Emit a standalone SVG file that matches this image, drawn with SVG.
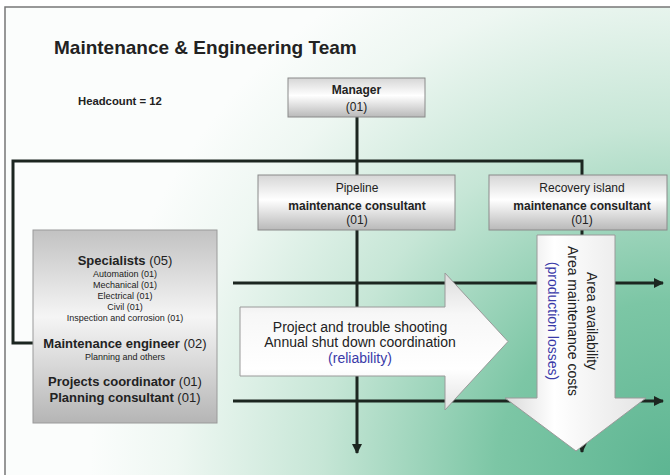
<svg xmlns="http://www.w3.org/2000/svg" width="670" height="475" viewBox="0 0 670 475">
  <defs>
    <radialGradient id="bg" gradientUnits="userSpaceOnUse" cx="670" cy="475" r="580">
      <stop offset="0" stop-color="#5db592"/>
      <stop offset="0.3" stop-color="#7cc6a5"/>
      <stop offset="0.6" stop-color="#c6e6d6"/>
      <stop offset="0.85" stop-color="#eef7f2"/>
      <stop offset="1" stop-color="#fbfdfc"/>
    </radialGradient>
    <linearGradient id="boxFill" x1="0" y1="0" x2="0" y2="1">
      <stop offset="0" stop-color="#d6d6d6"/>
      <stop offset="0.45" stop-color="#ffffff"/>
      <stop offset="1" stop-color="#b9b9b9"/>
    </linearGradient>
    <linearGradient id="teamFill" x1="0" y1="0" x2="0" y2="1">
      <stop offset="0" stop-color="#c2c2c2"/>
      <stop offset="0.45" stop-color="#f5f5f5"/>
      <stop offset="1" stop-color="#b5b5b5"/>
    </linearGradient>
    <linearGradient id="rightFill" x1="0" y1="0" x2="0" y2="1">
      <stop offset="0" stop-color="#dcdcdc"/>
      <stop offset="0.3" stop-color="#f7f7f7"/>
      <stop offset="0.7" stop-color="#ffffff"/>
      <stop offset="1" stop-color="#e2e2e2"/>
    </linearGradient>
    <linearGradient id="downFill" x1="0" y1="0" x2="1" y2="0">
      <stop offset="0" stop-color="#dadada"/>
      <stop offset="0.35" stop-color="#ffffff"/>
      <stop offset="1" stop-color="#e4e4e4"/>
    </linearGradient>
    <marker id="tip" markerUnits="userSpaceOnUse" markerWidth="10" markerHeight="10" refX="9" refY="5" orient="auto">
      <path d="M0,0 L10,5 L0,10 z" fill="#1c2620"/>
    </marker>
    <style>
      text { font-family: "Liberation Sans", Arial, sans-serif; fill: #222; }
      .b { font-weight: bold; }
      .title { font-size: 19px; font-weight: bold; }
      .head { font-size: 11.3px; font-weight: bold; }
      .box { stroke: #8a8a8a; stroke-width: 1; fill: url(#boxFill); }
      .bt { font-size: 12px; text-anchor: middle; }
      .st { font-size: 13px; text-anchor: middle; }
      .sm { font-size: 9px; text-anchor: middle; }
      .at { font-size: 14px; text-anchor: middle; }
      .blue { fill: #3a3aa8; }
      .line { stroke: #1c2620; stroke-width: 3; fill: none; }
      .blk { stroke: #9a9a9a; stroke-width: 1; }
    </style>
  </defs>

  <!-- page -->
  <rect x="0" y="0" width="670" height="475" fill="#ffffff"/>
  <rect x="5" y="7" width="700" height="500" fill="url(#bg)" stroke="#777" stroke-width="1.5"/>

  <text class="title" x="54" y="54">Maintenance &amp; Engineering Team</text>
  <text class="head" x="78" y="105">Headcount = 12</text>

  <!-- connectors -->
  <g id="connectors">
    <path class="line" d="M33 343 H13 V161 H582 V175"/>
    <path class="line" d="M357 117 V453" marker-end="url(#tip)"/>
    <path class="line" d="M582 230 V452" marker-end="url(#tip)"/>
    <path class="line" d="M233 283 H663" marker-end="url(#tip)"/>
    <path class="line" d="M233 401 H663" marker-end="url(#tip)"/>
  </g>

  <g id="manager">
    <rect class="box" x="288" y="78" width="137" height="39"/>
    <text class="bt b" x="356.5" y="94">Manager</text>
    <text class="bt" x="356.5" y="111">(01)</text>
  </g>

  <g id="pipeline">
    <rect class="box" x="258" y="175" width="197" height="55"/>
    <text class="bt" x="357" y="191.5">Pipeline</text>
    <text class="bt b" x="357" y="209.5">maintenance consultant</text>
    <text class="bt" x="357" y="224">(01)</text>
  </g>

  <g id="recovery">
    <rect class="box" x="489" y="175" width="178" height="55"/>
    <text class="bt" x="582" y="191.5">Recovery island</text>
    <text class="bt b" x="582" y="209.5">maintenance consultant</text>
    <text class="bt" x="582" y="224">(01)</text>
  </g>

  <g id="team">
    <rect x="33" y="230" width="184" height="193" fill="url(#teamFill)" stroke="#9a9a9a" stroke-width="1"/>
    <text class="st" x="125" y="264.5"><tspan class="b">Specialists</tspan> (05)</text>
    <text class="sm" x="125" y="276.5">Automation (01)</text>
    <text class="sm" x="125" y="287.5">Mechanical (01)</text>
    <text class="sm" x="125" y="298.5">Electrical (01)</text>
    <text class="sm" x="125" y="309.5">Civil (01)</text>
    <text class="sm" x="125" y="320.5">Inspection and corrosion (01)</text>
    <text class="st" x="125" y="347.5"><tspan class="b">Maintenance engineer</tspan> (02)</text>
    <text class="sm" x="125" y="360">Planning and others</text>
    <text class="st" x="125" y="385.5"><tspan class="b">Projects coordinator</tspan> (01)</text>
    <text class="st" x="125" y="402"><tspan class="b">Planning consultant</tspan> (01)</text>
  </g>

  <g id="reliability">
    <polygon class="blk" fill="url(#rightFill)" points="240,307 445,307 445,273 508,341.5 445,410 445,376 240,376"/>
    <text class="at" x="360" y="332">Project and trouble shooting</text>
    <text class="at" x="360" y="347">Annual shut down coordination</text>
    <text class="at blue" x="360" y="363">(reliability)</text>
  </g>

  <g id="availability">
    <polygon class="blk" fill="url(#downFill)" points="537,235 615,235 615,398 646,398 576,451 505,398 537,398"/>
    <text class="at" transform="translate(587,321) rotate(90)">Area availability</text>
    <text class="at" transform="translate(568,321) rotate(90)">Area maintenance costs</text>
    <text class="at blue" transform="translate(548,321) rotate(90)">(production losses)</text>
  </g>
</svg>
